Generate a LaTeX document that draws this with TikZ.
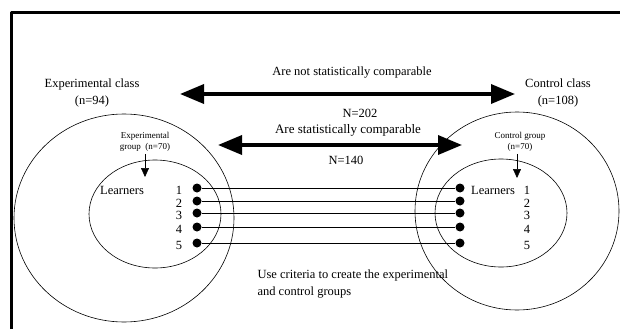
\documentclass[tikz,border=0pt]{standalone}
\usepackage{fontspec}
\setmainfont{Liberation Serif}
\usetikzlibrary{arrows.meta,positioning}
\begin{document}
\begin{tikzpicture}[x=1pt,y=-1pt,line join=round,font=\fontsize{12.5}{17}\selectfont,
  bigarrow/.style={line width=3.5pt,{Triangle[length=24pt,width=19pt]}-{Triangle[length=24pt,width=19pt]}},
  smallarrow/.style={line width=0.6pt,-{Triangle[length=9pt,width=8pt]}},
  ring/.style={line width=0.6pt},
  learner/.style={circle,fill=black,inner sep=0pt,minimum size=9pt},
  small/.style={font=\fontsize{9}{10.5}\selectfont,align=center}]
  \useasboundingbox (0,0) rectangle (620,329);
  % frame
  \draw[line width=3pt] (11,329) -- (11,13) -- (620,13);
  % classes
  \node[align=center] (expclass) at (92,93) {Experimental class\\(n=94)};
  \node[align=center] (ctrlclass) at (558,93) {Control class\\(n=108)};
  \coordinate (t1) at (180,94);
  \coordinate (t2) at (515,94);
  \draw[bigarrow] (t1) -- (t2);
  \node (notcomp) at (352,73) {Are not statistically comparable};
  \node (n202) at (360,113) {N=202};
  % circles
  \draw[ring] (124,218) ellipse [x radius=110,y radius=104];
  \draw[ring] (155,214) ellipse [x radius=66,y radius=54];
  \draw[ring] (517,211) ellipse [x radius=102,y radius=99];
  \draw[ring] (501,213) ellipse [x radius=66,y radius=54];
  % groups
  \node[small] (expgroup) at (145,142) {Experimental\\group \ (n=70)};
  \node[small] (ctrlgroup) at (520,142) {Control group\\(n=70)};
  \coordinate (ea) at (145,177);
  \coordinate (ca) at (517,178);
  \draw[smallarrow] (expgroup.south) ++(0,-1) -- (ea);
  \draw[smallarrow] (ctrlgroup.south) ++(-3,-1) -- (ca);
  \coordinate (m1) at (218,145);
  \coordinate (m2) at (462,145);
  \draw[bigarrow] (m1) -- (m2);
  \node[font=\fontsize{13}{15}\selectfont] (comp) at (348,130) {Are statistically comparable};
  \node (n140) at (346,160) {N=140};
  % learners
  \node (lexp) at (122,190) {Learners};
  \node (lctrl) at (493,190) {Learners};
  \foreach \i/\y in {1/188,2/201,3/213,4/227,5/243}{
    \node[learner] (e\i) at (197,\y) {};
    \node[learner] (c\i) at (460,\y) {};
    \node (en\i) at (179,\y+2) {\i};
    \node (cn\i) at (527,\y+2) {\i};
    \draw[line width=0.6pt] (e\i) -- (c\i);
  }
  \node[align=left,anchor=north west] (criteria) at (254,266)
    {Use criteria to create the experimental\\and control groups};
\end{tikzpicture}
\end{document}
